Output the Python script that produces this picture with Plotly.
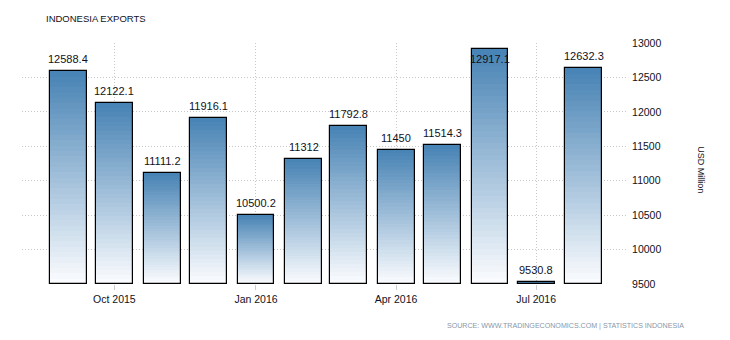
import plotly.graph_objects as go

months = ["2015-09-01", "2015-10-01", "2015-11-01", "2015-12-01", "2016-01-01", "2016-02-01",
          "2016-03-01", "2016-04-01", "2016-05-01", "2016-06-01", "2016-07-01", "2016-08-01"]
exports = [12588.4, 12122.1, 11111.2, 11916.1, 10500.2, 11312,
           11792.8, 11450, 11514.3, 12917.1, 9530.8, 12632.3]
labels = ["12588.4", "12122.1", "11111.2", "11916.1", "10500.2", "11312",
          "11792.8", "11450", "11514.3", "12917.1", "9530.8", "12632.3"]
tick_vals = ["2015-10-01", "2016-01-01", "2016-04-01", "2016-07-01"]
tick_text = ["Oct 2015", "Jan 2016", "Apr 2016", "Jul 2016"]

Y_MIN, Y_MAX = 9500, 13000
FONT = "Liberation Sans, Arial, sans-serif"
BAR_W = 24 * 86400000  # ms

top_rgb = (70, 130, 180)
bot_rgb = (252, 253, 255)
N = 40

fig = go.Figure()
for i in range(N):
    frac = (i + 0.5) / N
    c = tuple(round(bot_rgb[k] + (top_rgb[k] - bot_rgb[k]) * frac) for k in range(3))
    bases = [Y_MIN + (v - Y_MIN) * i / N for v in exports]
    heights = [v - b for v, b in zip(exports, bases)]
    fig.add_trace(go.Bar(
        x=months, y=heights, base=bases, width=BAR_W,
        marker=dict(color="rgb(%d,%d,%d)" % c, line=dict(width=0)),
        hoverinfo="skip", showlegend=False))

fig.add_trace(go.Bar(
    x=months, y=[v - Y_MIN for v in exports], base=Y_MIN, width=BAR_W,
    marker=dict(color="rgba(0,0,0,0)", line=dict(color="#000000", width=1.2)),
    showlegend=False))

for m, v, t in zip(months, exports, labels):
    inside = v + 190 > Y_MAX
    fig.add_annotation(x=m, y=v, text=t, showarrow=False,
                       yanchor="top" if inside else "bottom",
                       yshift=-2 if inside else 4,
                       font=dict(family=FONT, size=11, color="#111122"))

fig.add_annotation(xref="paper", yref="paper", x=0.0364, y=1.102, xanchor="left", yanchor="middle",
                   text="INDONESIA EXPORTS", showarrow=False,
                   font=dict(family=FONT, size=9.5, color="#111122"))
fig.add_annotation(xref="paper", yref="paper", x=1.0975, y=-0.1726, xanchor="right", yanchor="middle",
                   text="SOURCE: WWW.TRADINGECONOMICS.COM | STATISTICS INDONESIA", showarrow=False,
                   font=dict(family=FONT, size=7.1, color="#8a97a8"))
fig.add_annotation(xref="paper", yref="paper", x=1.1218, y=0.473, xanchor="center", yanchor="middle",
                   text="USD Million", textangle=90, showarrow=False,
                   font=dict(family=FONT, size=9, color="#111122"))

fig.update_layout(
    width=730, height=340,
    margin=dict(l=22, r=103, t=43, b=56),
    paper_bgcolor="white", plot_bgcolor="white",
    barmode="overlay", bargap=0,
    font=dict(family=FONT, size=10, color="#111122"),
    xaxis=dict(type="date", range=["2015-08-02", "2016-08-29"],
               tickvals=tick_vals, ticktext=tick_text,
               showgrid=True, gridcolor="#c8c8c8", griddash="1px,2px", gridwidth=1,
               ticks="outside", ticklen=5, tickcolor="#cccccc",
               showline=False, zeroline=False,
               tickfont=dict(family=FONT, size=10.5, color="#111122")),
    yaxis=dict(side="right", range=[Y_MIN, Y_MAX], dtick=500, tick0=0, tickformat="d",
               showgrid=True, gridcolor="#c8c8c8", griddash="1px,2px", gridwidth=1,
               showline=False, zeroline=False, ticks="outside", ticklen=2, tickcolor="rgba(0,0,0,0)",
               tickfont=dict(family=FONT, size=10.5, color="#111122")),
)

fig.write_html("out.html")
